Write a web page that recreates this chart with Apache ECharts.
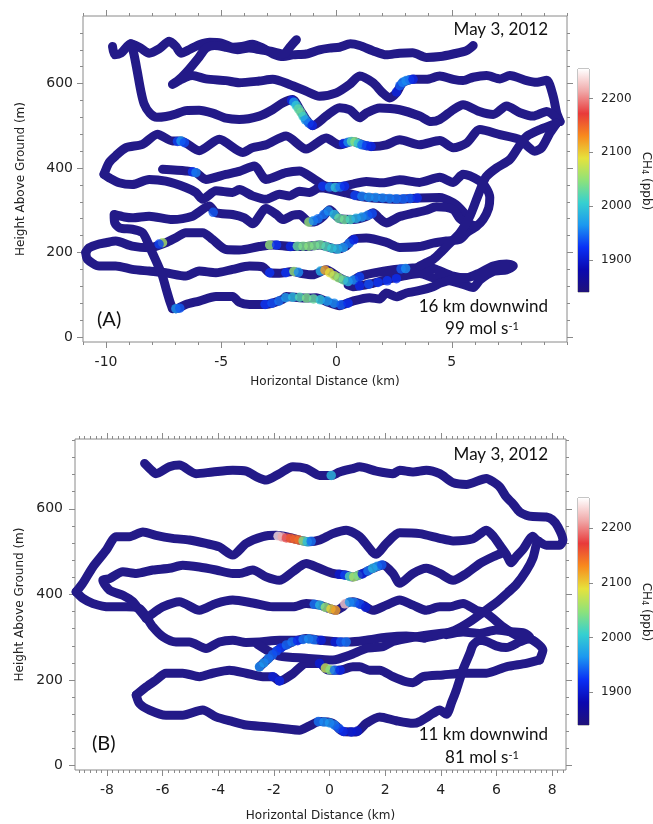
<!DOCTYPE html>
<html>
<head>
<meta charset="utf-8">
<script src="https://cdn.jsdelivr.net/npm/echarts@6/dist/echarts.min.js"></script>
<style>
  html, body { margin: 0; padding: 0; background: #fff; }
  #chart { width: 653px; height: 824px; }
</style>
</head>
<body>
<div id="chart"></div>
<script>
// flight tracks, panel A: [km, m]
const topTrack680 = [[-9.72,688],[-9.62,668],[-9.35,672],[-8.93,694],[-8.5,684],[-8.13,672],[-7.7,682],[-7.26,700],[-6.97,688],[-6.75,672],[-6.4,680],[-5.96,692],[-5.5,698],[-5.0,696],[-4.5,686],[-4.1,688],[-3.65,693],[-3.2,684],[-2.75,670],[-2.3,664],[-1.9,668],[-1.32,670],[-0.74,680],[-0.3,684],[0.13,686],[0.6,694],[1.0,690],[1.57,678],[2.16,668],[2.74,672],[3.3,673],[3.9,662],[4.5,664],[5.06,670],[5.64,678],[5.93,690]];
const topTrack600 = [[-1.74,704],[-2.0,688],[-2.3,670],[-2.8,676],[-3.3,680],[-3.8,684],[-4.3,680],[-4.8,686],[-5.3,690],[-5.67,684],[-6.0,660],[-6.54,625],[-6.9,606],[-7.12,598],[-6.8,608],[-6.54,615],[-6.25,619],[-5.67,611],[-4.8,607],[-4.22,602],[-3.35,606],[-2.77,610],[-2.04,598],[-1.32,582],[-0.74,570],[-0.01,578],[0.57,598],[1.0,618],[1.58,602],[2.0,578],[2.3,566],[2.6,578],[2.87,602],[3.32,610],[3.9,610],[4.48,618],[5.06,610],[5.49,607],[5.93,615],[6.51,619],[7.09,611],[7.52,619],[8.25,607],[8.68,603],[9.12,608],[9.4,570],[9.55,531],[9.7,510]];
const topTrack520 = [[9.7,510],[9.12,534],[8.53,523],[7.96,531],[7.38,547],[6.8,527],[6.2,534],[5.49,550],[5.06,538],[4.48,515],[4.1,510],[3.61,523],[2.74,538],[1.87,542],[1.29,530],[1.0,519],[0.57,538],[0.13,543],[-0.45,523],[-1.04,500],[-1.32,515],[-1.54,534],[-1.91,562],[-2.34,554],[-2.78,538],[-3.35,523],[-4.22,515],[-4.8,518],[-5.38,530],[-5.96,537],[-6.54,536],[-6.97,528],[-7.4,522],[-7.8,520],[-8.1,530],[-8.35,552],[-8.5,585],[-8.65,630],[-8.8,672],[-8.93,694]];
const topTrack450 = [[-10.09,385],[-9.87,413],[-9.58,429],[-9.14,448],[-8.42,456],[-7.77,480],[-7.12,464],[-6.75,464],[-5.96,441],[-5.09,468],[-4.07,437],[-3.65,448],[-3.06,455],[-2.19,476],[-1.32,445],[-0.45,471],[0.13,455],[0.71,463],[1.15,455],[1.58,451],[2.16,455],[2.74,467],[3.6,455],[4.48,465],[5.06,448],[5.64,459],[6.22,491],[7.09,479],[7.96,467],[8.6,440],[8.9,448],[9.26,483],[9.55,506]];
const topTrack360 = [[-10.09,385],[-9.87,377],[-9.43,365],[-8.86,361],[-8.13,373],[-7.41,369],[-6.54,354],[-6.1,342],[-5.81,326],[-5.23,346],[-4.51,342],[-4.22,349],[-3.64,334],[-3.06,326],[-2.48,338],[-2.04,334],[-1.61,345],[-1.17,342],[-0.74,353],[-0.3,350],[0.42,341],[1.0,333],[1.58,329],[2.74,326],[3.6,329],[4.48,330],[5.06,318],[5.35,305],[5.64,287]];
const topTrack380 = [[-7.55,397],[-6.54,393],[-6.1,389],[-5.67,373],[-4.8,385],[-4.22,392],[-3.57,405],[-3.06,373],[-2.78,377],[-2.19,389],[-1.61,393],[-1.03,376],[-0.45,357],[0.13,356],[0.71,362],[1.29,368],[2.0,365],[2.74,372],[3.6,366],[4.48,378],[5.06,366],[5.49,385],[6.22,369],[6.5,352],[6.65,330],[6.6,305],[6.36,278],[6.07,262],[5.64,247]];
const topTrack210 = [[5.64,247],[5.35,231],[4.77,227],[4.19,222],[3.6,214],[2.74,212],[2.16,224],[1.29,234],[0.71,231],[0.42,215],[0.01,208],[-0.74,218],[-1.32,214],[-1.9,214],[-2.77,218],[-3.35,214],[-4.22,206],[-4.8,207],[-5.38,231],[-5.81,247],[-6.54,247],[-6.97,235],[-7.41,223],[-8.13,211],[-8.86,215],[-9.58,227],[-10.01,223],[-10.3,220],[-10.74,211],[-10.88,200]];
const topTrack150 = [[-10.88,200],[-10.81,184],[-10.3,168],[-9.58,168],[-8.86,160],[-8.13,156],[-7.41,152],[-6.54,144],[-5.96,156],[-5.23,152],[-4.51,160],[-3.78,168],[-3.2,166],[-2.91,152],[-2.48,151],[-1.9,155],[-1.5,150],[-1.03,147],[-0.45,159],[0.13,140],[0.57,131],[1.0,143],[1.58,151],[2.45,159],[3.32,163],[3.9,167],[4.33,160],[5.06,144],[5.64,140],[6.22,152],[6.8,168],[7.38,173],[7.67,168],[7.38,159],[6.8,155],[6.22,135],[5.93,117],[5.35,127],[4.77,135],[4.2,140],[3.61,150],[2.88,144],[2.16,136],[1.58,127],[0.71,119],[0.5,123]];
const topTrack280 = [[-7.12,67],[-7.26,89],[-7.4,115],[-7.55,144],[-7.75,170],[-7.99,199],[-8.2,225],[-8.42,247],[-8.86,255],[-9.4,258],[-9.62,270],[-9.65,290],[-9.2,284],[-8.86,282],[-8.13,286],[-7.12,278],[-6.25,286],[-5.52,310],[-5.23,294],[-4.51,290],[-4.0,282],[-3.64,268],[-3.06,304],[-2.6,290],[-2.33,278],[-1.9,288],[-1.61,290],[-1.17,272],[-0.88,274],[-0.59,285],[-0.3,301],[0.13,280],[0.71,278],[1.29,285],[1.58,294],[1.87,280],[2.16,270],[2.74,285],[3.32,293],[3.9,300],[4.33,308],[5.06,302],[5.35,280],[5.64,270],[6.07,262]];
const topTrack70 = [[-7.12,69],[-6.97,67],[-6.54,77],[-5.96,85],[-5.23,96],[-4.51,96],[-4.22,82],[-3.78,77],[-3.06,77],[-2.77,80],[-2.33,89],[-2.19,96],[-1.61,93],[-1.32,92],[-0.88,93],[-0.45,84],[0.13,74],[0.71,85],[1.43,93],[1.87,90],[2.16,104],[2.59,95],[3.03,104],[3.61,110],[4.19,119],[4.48,127],[5.06,136],[5.64,140]];
const topTrackDiag = [[9.55,506],[8.83,491],[8.25,475],[7.96,455],[7.52,420],[6.94,400],[6.5,380],[6.36,365],[6.07,325],[5.78,285],[5.35,246],[4.77,214],[4.48,198],[4.2,184],[3.9,176],[3.61,168]];

// CH4 readings above background, panel A: [km, m, ppb]
const topSpots = [
  [2.6,580,1910],[2.75,595,1940],[2.87,603,1955],[3.02,607,1960],[3.17,609,1950],[3.32,610,1915],
  [-1.95,560,1915],[-1.85,556,1970],[-1.75,548,2000],[-1.65,540,2025],[-1.55,532,2030],[-1.45,522,2010],[-1.35,514,1970],[-1.2,506,1950],[-1.05,501,1915],
  [-6.9,463,1930],[-6.75,464,1965],[-6.6,460,1935],[0.3,458,1915],[0.5,461,1960],[0.65,463,2020],[0.8,462,2045],[0.95,458,2000],[1.1,455,1950],[1.3,453,1930],[1.5,451,1915],
  [-6.25,391,1925],[-6.1,389,1955],
  [-0.6,357,1925],[-0.3,355,1955],[-0.05,354,1995],[0.15,355,1950],[0.35,357,1920],
  [0.8,335,1930],[1.1,333,1955],[1.4,331,1962],[1.7,330,1960],[2.0,329,1957],[2.3,328,1955],[2.6,327,1950],[2.9,327,1945],[3.2,328,1940],[3.5,329,1920],
  [-5.35,295,1940],[-1.2,272,2050],[-1.0,275,1960],[-0.8,280,1950],[-0.55,290,1950],[-0.35,298,1960],[-0.1,290,1990],[0.1,281,2030],[0.35,278,2035],[0.6,278,2015],[0.85,281,1985],[1.1,284,1970],[1.35,288,1955],[1.55,292,1935],
  [-7.55,223,2060],[-7.7,220,1930],[-2.9,218,2050],[-2.6,218,1925],[-2.0,214,1915],[-1.7,215,2030],[-1.45,215,2040],[-1.2,215,2045],[-0.95,216,2040],[-0.7,218,2035],[-0.45,214,2020],[-0.2,210,2005],[0.05,208,1990],[0.3,212,1970],[0.55,222,1950],[0.75,230,1915],
  [-2.9,152,1925],[-2.2,152,1925],[-1.85,155,2050],[-1.65,153,1960],[-0.7,156,1980],[-0.5,158,2120],[-0.3,152,2090],[-0.1,145,2070],[0.1,140,2050],[0.3,135,2030],[0.5,131,1990],[0.75,135,1960],[1.0,142,1930],[2.8,161,1940],[3.0,162,1960],
  [1.0,121,1915],[1.4,125,1935],[1.8,129,1925],[2.2,133,1925],[2.6,138,1920],
  [-6.97,67,1965],[-6.8,68,1940],[-3.1,77,1925],[-2.8,80,1935],[-2.5,85,1950],[-2.2,93,1970],[-1.9,94,1990],[-1.6,94,2020],[-1.3,92,2040],[-1.0,90,2030],[-0.7,88,2000],[-0.4,85,1970],[-0.1,80,1960],[0.2,76,1940],[0.5,80,1920]
];

// flight tracks, panel B: [km, m]
const bottomTrack700 = [[-6.65,706],[-6.4,690],[-6.24,682],[-5.76,698],[-5.4,702],[-4.8,682],[-4.2,686],[-3.48,690],[-3.0,688],[-2.6,674],[-2.28,667],[-1.8,682],[-1.32,698],[-0.84,694],[-0.36,678],[0.06,678],[0.36,686],[0.84,694],[1.08,698],[1.68,688],[2.28,682],[2.52,690],[3.0,686],[3.48,690],[3.96,682],[4.44,661],[4.92,657],[5.64,671],[5.88,663],[6.12,651],[6.35,628],[6.59,612],[6.83,593],[7.07,585],[7.31,582],[7.79,581],[8.0,575],[8.21,558],[8.39,527],[8.27,515],[7.79,515],[7.5,525]];
const bottomTrackDiag = [[7.5,525],[7.43,515],[7.31,485],[7.07,455],[6.7,422],[6.4,404],[6.0,381],[5.55,360],[5.04,336],[4.5,316],[4.0,306],[3.4,298]];
const bottomTrack290 = [[3.4,298],[2.76,303],[2.04,300],[1.32,293],[0.72,289],[0.36,289],[-0.36,293],[-0.84,297],[-1.2,293],[-1.8,293],[-2.52,289],[-3.0,288],[-3.48,293],[-3.96,289],[-4.44,274],[-5.04,289],[-5.52,289],[-5.99,301],[-6.35,324],[-6.59,348],[-6.83,367],[-7.31,371],[-7.91,371],[-8.51,379],[-8.87,391],[-9.11,406]];
const bottomTrack540 = [[-9.11,406],[-8.87,426],[-8.51,464],[-8.03,503],[-7.67,535],[-7.19,535],[-6.71,546],[-6.24,538],[-5.64,531],[-5.04,527],[-4.44,519],[-3.96,511],[-3.48,492],[-3.0,519],[-2.4,535],[-1.92,538],[-1.44,533],[-1.08,527],[-0.72,523],[-0.36,527],[0.12,542],[0.6,550],[1.08,535],[1.68,494],[2.04,519],[2.52,544],[3.24,542],[3.96,531],[4.44,525],[5.16,530],[5.64,550],[5.9,535],[6.12,515],[6.35,494],[6.53,474],[6.71,488],[6.95,505],[7.31,536],[7.45,525]];
const bottomTrack450 = [[6.24,498],[5.88,488],[5.4,472],[4.92,449],[4.44,433],[3.96,449],[3.48,461],[3.0,449],[2.52,426],[2.28,449],[1.92,469],[1.56,461],[1.2,449],[0.84,441],[0.6,445],[0.12,449],[-0.36,461],[-0.84,472],[-1.32,453],[-1.8,433],[-2.28,441],[-2.76,457],[-3.24,449],[-3.48,449],[-4.08,457],[-4.68,464],[-5.28,468],[-5.76,461],[-6.35,457],[-6.95,449],[-7.43,453],[-7.91,437],[-8.15,433],[-7.91,410],[-7.43,398],[-7.07,383],[-6.83,363],[-6.59,344]];
const bottomTrack380 = [[-6.59,344],[-6.3,358],[-6.0,371],[-5.4,383],[-4.68,363],[-4.08,379],[-3.48,387],[-2.76,380],[-2.04,371],[-1.32,371],[-0.84,379],[-0.36,375],[0,367],[0.24,363],[0.45,370],[0.6,379],[0.84,383],[1.2,375],[1.56,363],[2.04,375],[2.52,387],[3.0,375],[3.48,363],[3.96,371],[4.32,371],[4.8,379],[5.28,363],[5.64,356],[6.24,324],[6.83,301],[7.31,293],[7.67,270],[7.55,247]];
const bottomTrack220 = [[7.55,247],[7.07,239],[6.35,231],[5.64,216],[4.8,216],[4.08,212],[3.36,208],[3.0,194],[2.76,196],[2.28,208],[1.8,223],[1.44,223],[1.08,231],[0.84,231],[0.36,223],[0,223],[-0.12,225],[-0.36,239],[-0.84,239],[-1.32,215],[-1.8,198],[-2.04,208],[-2.4,208],[-3.0,216],[-3.6,223],[-4.2,216],[-4.68,208],[-5.28,216],[-5.88,216],[-6.24,200],[-6.59,184],[-6.95,165]];
const bottomTrack100 = [[-6.95,165],[-6.83,145],[-6.47,130],[-5.88,118],[-5.28,118],[-4.56,130],[-4.08,114],[-3.48,103],[-3.0,95],[-2.28,91],[-1.68,87],[-1.08,83],[-0.72,93],[-0.36,103],[0.12,99],[0.48,80],[0.96,79],[1.32,99],[1.8,114],[2.4,105],[3.0,99],[3.24,103],[3.72,122],[3.96,130],[4.2,120],[4.4,150],[4.56,177],[4.8,225],[5.04,262],[5.16,282],[5.4,293],[5.64,290],[5.99,280],[6.35,276],[6.83,289],[7.2,300],[7.0,310],[6.5,313],[5.99,317],[5.4,309],[4.8,312],[4.2,306]];
const bottomTrack260 = [[-2.6,284],[-2.2,268],[-1.8,256],[-0.84,251],[0.12,247],[0.72,258],[1.32,274],[1.92,278],[2.28,290],[3.0,300],[3.96,309],[4.44,312]];
const bottomTrackSpur = [[-2.52,231],[-2.2,250],[-1.9,268],[-1.68,278],[-1.32,289]];

// CH4 readings above background, panel B: [km, m, ppb]
const bottomSpots = [
  [0.06,678,1990],
  [-1.85,536,2240],[-1.7,534,2215],[-1.55,532,2180],[-1.4,531,2155],[-1.25,529,2150],[-1.1,527,2145],[-0.95,525,2040],[-0.8,523,1995],[-0.66,524,1950],
  [0.35,447,1900],[0.55,445,1930],[0.72,442,2020],[0.87,441,2060],[1.02,444,2040],[1.18,448,1910],[1.38,455,1950],[1.55,461,1985],[1.72,466,1970],[1.88,469,1940],
  [-0.55,377,1950],[-0.35,375,1985],[-0.15,370,2050],[0.05,366,2095],[0.22,363,2120],[0.55,378,2230],[0.72,382,1965],[0.9,381,1955],[1.1,377,1935],[1.3,370,1905],
  [-2.52,231,1960],[-2.36,240,1965],[-2.2,250,1955],[-2.05,259,1945],[-1.9,268,1935],[-1.75,275,1925],[-1.55,282,1945],[-1.35,289,1950],[-1.15,292,1920],[-0.95,295,1950],[-0.75,296,1960],[-0.55,294,1950],[-0.3,293,1910],[0.2,289,1905],[0.4,289,1940],[0.6,289,1950],
  [-2.04,208,1905],[-1.8,198,1915],[-0.36,239,1905],[-0.15,228,2075],[0.02,224,2045],[0.18,223,1950],[0.38,223,1915],
  [-0.4,103,1950],[-0.2,102,1960],[0.0,100,1965],[0.18,95,1955],[0.34,87,1940],[0.5,80,1920],[0.78,79,1905],[1.0,81,1900]
];

// axes and colour scale
const topXRange = [-11, 10];
const topYRange = [-12, 760];
const bottomXRange = [-9.15, 8.5];
const bottomYRange = [-10, 763];
const topXMajor = [-10, -5, 0, 5];
const bottomXMajor = [-8, -6, -4, -2, 0, 2, 4, 6, 8];
const yMajor = [0, 200, 400, 600];
const cbarMin = 1840;
const cbarMax = 2255;
const cbarMajor = [1900, 2000, 2100, 2200];
const cbarColors = ['#20127a', '#0a08b0', '#0a30f5', '#1c98f0', '#36d0d0', '#8ee27a', '#e6e23c', '#f88a1e', '#e83a3a', '#f0a8a8', '#ffffff'];

const navy = '#231a88';
const frame = '#8a8a8a';
const axisFont = 'DejaVu Sans';
const noteFont = 'Lato';

function range(start, stop, step) {
    const out = [];
    for (let v = start; v <= stop + 1e-9; v += step) out.push(Math.round(v * 100) / 100);
    return out;
}

function tickAxis(grid, pos, min, max, ticks, len, extra, inside) {
    return Object.assign({
        type: 'value',
        gridIndex: grid,
        position: pos,
        min: min,
        max: max,
        axisLine: { show: false, onZero: false },
        splitLine: { show: false },
        axisTick: { show: true, inside: !!inside, customValues: ticks, length: len, lineStyle: { color: frame, width: 1 } },
        axisLabel: { show: false },
    }, extra || {});
}

function labels(ticks, size, margin) {
    return {
        axisLabel: {
            show: true, customValues: ticks, color: '#222', fontSize: size, fontFamily: axisFont, margin: margin,
            formatter: (v) => String(v),
        },
    };
}

function named(base, name, gap, rotate) {
    return Object.assign(base, {
        name: name,
        nameLocation: 'middle',
        nameGap: gap,
        nameRotate: rotate,
        nameTextStyle: { color: '#222', fontSize: 12, fontFamily: axisFont },
    });
}

const chart = echarts.init(document.getElementById('chart'));

const xAxis = [
    tickAxis(0, 'bottom', topXRange[0], topXRange[1], topXMajor, 6,
        named(labels(topXMajor, 14, 13), 'Horizontal Distance (km)', 34, 0)),
    tickAxis(0, 'bottom', topXRange[0], topXRange[1], range(-11, 10, 1), 3),
    tickAxis(0, 'top', topXRange[0], topXRange[1], topXMajor, 6),
    tickAxis(0, 'top', topXRange[0], topXRange[1], range(-11, 10, 1), 3),
    { type: 'category', gridIndex: 1, data: ['CH4'], show: false },
    tickAxis(2, 'bottom', bottomXRange[0], bottomXRange[1], bottomXMajor, 6,
        named(labels(bottomXMajor, 14, 13), 'Horizontal Distance (km)', 40, 0)),
    tickAxis(2, 'bottom', bottomXRange[0], bottomXRange[1], range(-9, 8.4, 0.2), 3),
    tickAxis(2, 'top', bottomXRange[0], bottomXRange[1], bottomXMajor, 6),
    tickAxis(2, 'top', bottomXRange[0], bottomXRange[1], range(-9, 8.4, 0.2), 3),
    { type: 'category', gridIndex: 3, data: ['CH4'], show: false },
];

const yAxis = [
    tickAxis(0, 'left', topYRange[0], topYRange[1], yMajor, 6,
        named(labels(yMajor, 14, 10), 'Height Above Ground (m)', 56, 90)),
    tickAxis(0, 'left', topYRange[0], topYRange[1], range(0, 720, 40), 3),
    tickAxis(0, 'right', topYRange[0], topYRange[1], yMajor, 6),
    tickAxis(0, 'right', topYRange[0], topYRange[1], range(0, 720, 40), 3),
    tickAxis(1, 'right', cbarMin, cbarMax, cbarMajor, 4, labels(cbarMajor, 12, 12)),
    tickAxis(1, 'right', cbarMin, cbarMax, range(1850, 2250, 10), 3, null, true),
    tickAxis(2, 'left', bottomYRange[0], bottomYRange[1], yMajor, 6,
        named(labels(yMajor, 14, 12), 'Height Above Ground (m)', 48, 90)),
    tickAxis(2, 'left', bottomYRange[0], bottomYRange[1], range(0, 760, 40), 3),
    tickAxis(2, 'right', bottomYRange[0], bottomYRange[1], yMajor, 6),
    tickAxis(2, 'right', bottomYRange[0], bottomYRange[1], range(0, 760, 40), 3),
    tickAxis(3, 'right', cbarMin, cbarMax, cbarMajor, 4, labels(cbarMajor, 12, 12)),
    tickAxis(3, 'right', cbarMin, cbarMax, range(1850, 2250, 10), 3, null, true),
];

const gradient = () => new echarts.graphic.LinearGradient(0, 1, 0, 0,
    cbarColors.map((c, i) => ({ offset: i / (cbarColors.length - 1), color: c })));

const series = [];
const spotSeries = [];

function addPanel(tracks, spots, xi, yi, cbx, cby) {
    tracks.forEach((track) => {
        series.push({
            type: 'line',
            xAxisIndex: xi,
            yAxisIndex: yi,
            data: track,
            symbol: 'none',
            smooth: 0.25,
            clip: false,
            silent: true,
            lineStyle: { color: navy, width: 9, cap: 'round', join: 'round' },
            z: 2,
        });
    });
    spotSeries.push(series.length);
    series.push({
        type: 'scatter',
        xAxisIndex: xi,
        yAxisIndex: yi,
        data: spots,
        symbolSize: 9.5,
        clip: false,
        silent: true,
        z: 3,
    });
    // colour bar: transparent base up to the scale minimum, gradient above it
    series.push({
        type: 'bar', xAxisIndex: cbx, yAxisIndex: cby, stack: 'cb' + cbx,
        data: [cbarMin], barWidth: '100%', silent: true,
        itemStyle: { color: 'rgba(0,0,0,0)' },
    });
    series.push({
        type: 'bar', xAxisIndex: cbx, yAxisIndex: cby, stack: 'cb' + cbx,
        data: [cbarMax - cbarMin], barWidth: '100%', silent: true,
        itemStyle: { color: gradient() },
    });
}

addPanel([topTrack680, topTrack600, topTrack520, topTrack450, topTrack360, topTrack380,
    topTrack210, topTrack150, topTrack280, topTrack70, topTrackDiag], topSpots, 0, 0, 4, 4);
addPanel([bottomTrack700, bottomTrackDiag, bottomTrack290, bottomTrack540, bottomTrack450,
    bottomTrack380, bottomTrack220, bottomTrack100, bottomTrack260, bottomTrackSpur], bottomSpots, 5, 6, 9, 10);

function note(text, x, y, align, size) {
    return {
        type: 'text', x: x, y: y, silent: true,
        style: {
            text: text, fill: '#111', fontSize: size, fontFamily: noteFont,
            align: align, verticalAlign: 'middle',
            rich: { sup: { fontSize: 11, fontFamily: noteFont, verticalAlign: 'top', fill: '#111', padding: [0, 0, 4, 0] } },
        },
    };
}

function cbarTitle(y) {
    return {
        type: 'text', x: 646, y: y, rotation: -Math.PI / 2, silent: true,
        style: {
            text: 'CH{sub|4} (ppb)', fill: '#222', fontSize: 12, fontFamily: axisFont,
            align: 'center', verticalAlign: 'middle',
            rich: {
                sub: { fontSize: 8, fontFamily: axisFont, verticalAlign: 'bottom', fill: '#222' },
            },
        },
    };
}

chart.setOption({
    animation: false,
    backgroundColor: '#fff',
    grid: [
        { left: 83, top: 16, width: 484, height: 326, show: true, borderColor: frame, borderWidth: 1 },
        { left: 578, top: 69, width: 11, height: 223, show: true, borderColor: frame, borderWidth: 1 },
        { left: 75, top: 439, width: 491, height: 331, show: true, borderColor: frame, borderWidth: 1 },
        { left: 578, top: 498, width: 11, height: 227, show: true, borderColor: frame, borderWidth: 1 },
    ],
    xAxis: xAxis,
    yAxis: yAxis,
    visualMap: {
        type: 'continuous',
        show: false,
        min: cbarMin,
        max: cbarMax,
        dimension: 2,
        seriesIndex: spotSeries,
        inRange: { color: cbarColors },
    },
    graphic: [
        note('May 3, 2012', 548, 30, 'right', 17),
        note('(A)', 97, 320, 'left', 20),
        note('16 km downwind', 548, 307, 'right', 17),
        note('99 mol s{sup|-1}', 482, 329, 'center', 17),
        cbarTitle(181),
        note('May 3, 2012', 548, 455, 'right', 17),
        note('(B)', 92, 744, 'left', 20),
        note('11 km downwind', 548, 735, 'right', 17),
        note('81 mol s{sup|-1}', 482, 758, 'center', 17),
        cbarTitle(612),
    ],
    series: series,
});
</script>
</body>
</html>
